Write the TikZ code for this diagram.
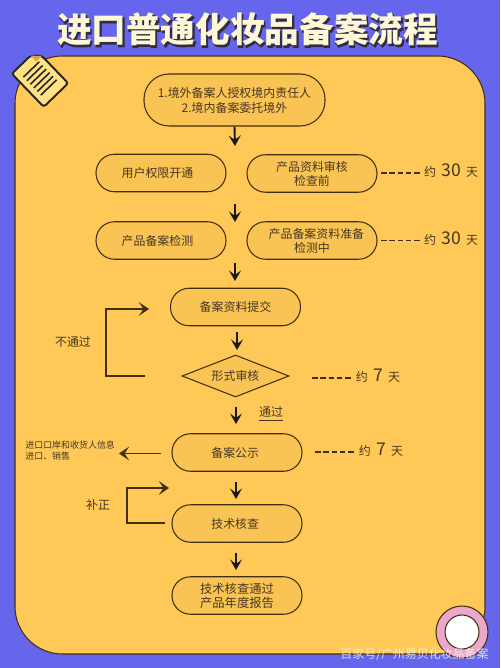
\documentclass[tikz,border=0pt]{standalone}
\usepackage{fontspec}
\setmainfont{Noto Sans CJK SC}
\newfontfamily\titlethick[FakeBold=2.5]{Noto Sans CJK SC}
\usetikzlibrary{arrows.meta,shapes.geometric}
\definecolor{bgblue}{RGB}{102,102,236}
\definecolor{panel}{RGB}{255,200,87}
\definecolor{boxfill}{RGB}{250,196,84}
\definecolor{ink}{RGB}{66,46,16}
\definecolor{txt}{RGB}{70,55,35}
\definecolor{cream}{RGB}{255,248,214}
\definecolor{titleshade}{RGB}{48,44,70}
\definecolor{noteyel}{RGB}{255,226,130}
\definecolor{notefold}{RGB}{226,160,80}
\definecolor{ringpink}{RGB}{236,168,200}
\newcommand{\sz}[1]{\fontsize{#1}{8}\selectfont}
\tikzset{
  pill/.style={draw=ink,line width=0.6pt,fill=boxfill,text=txt,align=center,inner sep=0pt,
    minimum width=2.6cm,minimum height=0.75cm,rounded corners=3.7mm,font=\sz{6.8}},
  flow/.style={black!90,line width=1.1pt,-{Stealth[length=2.1mm,width=2.4mm,inset=0.9mm]}},
  loopline/.style={ink,line width=0.75pt,-{Stealth[length=2mm,width=2.7mm,inset=0.9mm]}},
  dashline/.style={ink,line width=0.8pt,dash pattern=on 3.2pt off 1.5pt},
  lbl/.style={text=txt,font=\sz{6.8},inner sep=0pt}
}
\begin{document}
\begin{tikzpicture}[x=0.02cm,y=-0.02cm]
\useasboundingbox (0,0) rectangle (500,668);
\fill[bgblue] (0,0) rectangle (500,668);
\draw[ink,line width=0.6pt,fill=panel,rounded corners=0.95cm] (15,56) rectangle (485,654);
\node[font=\titlethick\sz{19.7}\bfseries,titleshade,inner sep=0pt] (titleback) at (248.5,31) {进口普通化妆品备案流程};
\node[font=\sz{19.7}\bfseries,cream,inner sep=0pt] (title) at (247.5,29.5) {进口普通化妆品备案流程};

\begin{scope}[shift={(40,78.5)},rotate=44]
\draw[black!85,line width=1.1pt,fill=noteyel,rounded corners=1.5pt] (-17,-23) -- (9,-23) -- (17,-15) -- (17,23) -- (-17,23) -- cycle;
\fill[notefold] (9,-23) -- (9,-15) -- (17,-15) -- cycle;
\foreach \i in {-12.5,-7.5,-2.5,2.5,7.5,12.5}{
  \draw[black!85,line width=0.9pt] (-11,\i) -- (11,\i);
}
\end{scope}

\node[pill,minimum width=3.62cm,minimum height=1.04cm,rounded corners=5mm,font=\fontsize{6.8}{8.5}\selectfont] (auth) at (234.5,100) {1.境外备案人授权境内责任人\\2.境内备案委托境外};
\node[pill] (open) at (161,173) {用户权限开通\hspace*{4pt}};
\node[pill] (review) at (312,173.5) {产品资料审核\\检查前};
\node[pill] (detect) at (161,240.5) {产品备案检测\hspace*{4pt}};
\node[pill] (prep) at (312,240.5) {\hspace*{5pt}产品备案资料准备\\检测中};
\node[pill] (submit) at (235.5,307) {备案资料提交};
\node[diamond,draw=ink,line width=0.6pt,fill=boxfill,text=txt,font=\sz{6.8},inner sep=0pt,aspect=2.55,minimum width=2.14cm,minimum height=0.84cm] (formal) at (235.5,376) {形式审核};
\node[pill] (publish) at (237,452.5) {备案公示\hspace*{2pt}};
\node[pill] (tech) at (237,523.5) {技术核查\hspace*{2pt}};
\node[pill,font=\sz{7}] (final) at (237,595.5) {技术核查通过\\产品年度报告};

\coordinate (a1) at (235,146);
\coordinate (a2s) at (235,204);
\coordinate (a2e) at (235,222);
\coordinate (a3s) at (235,263);
\coordinate (a3e) at (235,281);
\coordinate (a4s) at (237,332);
\coordinate (a4e) at (237,350);
\coordinate (a5s) at (236,407);
\coordinate (a5e) at (236,424);
\coordinate (a6s) at (236,482);
\coordinate (a6e) at (236,499);
\coordinate (a7s) at (236,553);
\coordinate (a7e) at (236,570);
\draw[flow] (auth.south) -- (a1);
\draw[flow] (a2s) -- (a2e);
\draw[flow] (a3s) -- (a3e);
\draw[flow] (a4s) -- (a4e);
\draw[flow] (a5s) -- (a5e);
\draw[flow] (a6s) -- (a6e);
\draw[flow] (a7s) -- (a7e);

\coordinate (fail1) at (145,376);
\coordinate (fail2) at (149,309);
\draw[loopline] (fail1) -- (106,376) -- (106,309) -- (fail2);
\node[lbl] (failtext) at (73,342) {不通过};
\node[lbl] (passtext) at (271,414) {\underline{通过}};

\coordinate (pub1) at (161,453.5);
\node[text=txt,font=\fontsize{5.1}{6.2}\selectfont,align=left,inner sep=0pt,anchor=west] (inform) at (25,451) {进口口岸和收货人信息\\进口、销售};
\coordinate (pub2) at (119,453.5);
\draw[loopline] (pub1) -- (pub2);

\coordinate (fix1) at (165,523);
\coordinate (fix2) at (169,488);
\draw[loopline] (fix1) -- (127,523) -- (127,488) -- (fix2);
\node[lbl] (fixtext) at (98,505) {补正};

\foreach \n/\xa/\xb/\y/\yt/\xt/\num in {d1/381/421/173/171/451/30,d2/381/421/240.5/238.5/451/30,d3/312/352/378/376/378/7,d4/315/355/452/450/381/7}{
  \coordinate (\n s) at (\xa,\y);
  \coordinate (\n e) at (\xb,\y);
  \draw[dashline] (\n s) -- (\n e);
  \node[lbl] (\n t) at (\xt,\yt) {约\hspace{3pt}{\sz{10}\num}\hspace{3pt}天};
}

\draw[ink,line width=0.6pt,fill=ringpink] (462,632) circle (26);
\draw[ink,line width=0.6pt,fill=white] (462,632) circle (17);
\node[white,opacity=0.75,font=\sz{6.8},inner sep=0pt] (mark) at (414.5,655) {百家号/广州易贝化妆品备案};
\end{tikzpicture}
\end{document}
